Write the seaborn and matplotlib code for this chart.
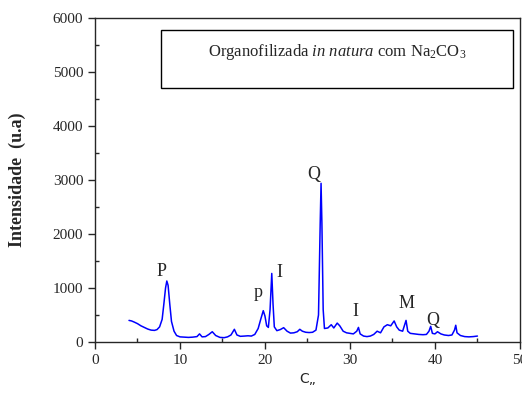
import matplotlib
matplotlib.use("Agg")
import matplotlib.pyplot as plt
from matplotlib.patches import Rectangle
from matplotlib.ticker import MultipleLocator
import seaborn as sns
import pandas as pd

two_theta = [4.0, 4.3, 4.6, 5.0, 5.4, 5.8, 6.2, 6.6, 7.0, 7.3, 7.6, 7.9, 8.1, 8.3, 8.45, 8.6, 8.8, 9.0, 9.3, 9.6,
             10.0, 10.5, 11.0, 11.5, 12.0, 12.3, 12.6, 13.0, 13.4, 13.8, 14.2, 14.7, 15.2, 15.6, 16.0, 16.4, 16.7,
             17.1, 17.6, 18.0, 18.4, 18.8, 19.2, 19.5, 19.8, 20.0, 20.2, 20.4, 20.6, 20.8, 20.95, 21.1, 21.4, 21.8,
             22.2, 22.6, 23.0, 23.4, 23.8, 24.1, 24.4, 24.8, 25.2, 25.6, 26.0, 26.3, 26.5, 26.6, 26.7, 26.85, 27.0,
             27.4, 27.8, 28.1, 28.5, 28.8, 29.2, 29.6, 30.0, 30.4, 30.8, 31.0, 31.2, 31.6, 32.0, 32.4, 32.8, 33.2,
             33.6, 34.0, 34.4, 34.8, 35.2, 35.5, 35.8, 36.2, 36.6, 36.8, 37.1, 37.6, 38.1, 38.6, 39.0, 39.3, 39.5,
             39.7, 40.0, 40.3, 40.7, 41.1, 41.6, 42.0, 42.3, 42.45, 42.6, 43.0, 43.5, 44.0, 44.5, 45.0]
intensity = [400, 390, 370, 340, 300, 270, 240, 220, 215, 230, 280, 420, 700, 1000, 1130, 1050, 700, 380, 200, 120,
             95, 90, 85, 90, 100, 150, 95, 100, 140, 190, 120, 85, 80, 95, 130, 235, 130,
             105, 110, 115, 110, 140, 250, 420, 580, 480, 300, 270, 600, 1270, 700, 280, 210, 230,
             265, 200, 165, 170, 190, 235, 200, 180, 175, 180, 220, 500, 2200, 2940, 2200, 600, 250,
             260, 320, 260, 350, 300, 200, 170, 160, 150, 200, 270, 150, 110, 100, 110, 140, 200,
             170, 280, 320, 300, 390, 280, 220, 200, 400, 200, 160, 150, 140, 135, 140, 200, 290,
             160, 150, 190, 150, 130, 120, 130, 220, 310, 170, 120, 100, 95, 100, 110]

peak_labels = ["P", "p", "I", "Q", "I", "M", "Q"]
peak_x = [7.8, 19.2, 21.7, 25.7, 30.6, 36.7, 39.8]
peak_y = [1300, 910, 1280, 3110, 560, 716, 407]

title_text = "Organofilizada $\\it{in\\ natura}$ com Na$_2$CO$_3$"

sns.set_style("ticks")
plt.rcParams["font.family"] = ["Liberation Serif", "DejaVu Serif"]
plt.rcParams["mathtext.fontset"] = "custom"
plt.rcParams["mathtext.rm"] = "Liberation Serif"
plt.rcParams["mathtext.it"] = "Liberation Serif:italic"

df = pd.DataFrame({"x": two_theta, "y": intensity})

fig = plt.figure(figsize=(5.22, 3.94), dpi=100)
ax = fig.add_axes([0.182, 0.132, 0.814, 0.822])
sns.lineplot(data=df, x="x", y="y", ax=ax, color="#0000ff", linewidth=1.1)

ax.set_xlim(0, 50)
ax.set_ylim(0, 6000)
ax.xaxis.set_major_locator(MultipleLocator(10))
ax.xaxis.set_minor_locator(MultipleLocator(5))
ax.yaxis.set_major_locator(MultipleLocator(1000))
ax.yaxis.set_minor_locator(MultipleLocator(500))
ax.tick_params(which="major", direction="out", length=5, width=1, labelsize=11)
ax.tick_params(which="minor", direction="in", length=3, width=1)
for s in ax.spines.values():
    s.set_visible(True)
    s.set_linewidth(1.0)

ax.set_xlabel("C\u201e", family=["DejaVu Sans"], fontsize=10)
ax.set_ylabel("Intensidade  (u.a)", fontsize=13, fontweight="bold", labelpad=19)

for lab, px, py in zip(peak_labels, peak_x, peak_y):
    ax.text(px, py, lab, fontsize=13, ha="center", va="center")

ax.add_patch(Rectangle((0.155, 0.784), 0.829, 0.179, transform=ax.transAxes,
                       fill=False, edgecolor="black", linewidth=1.0))
ax.text(0.569, 0.895, title_text, transform=ax.transAxes, ha="center", va="center", fontsize=12)

fig.savefig("out.png", dpi=100)
